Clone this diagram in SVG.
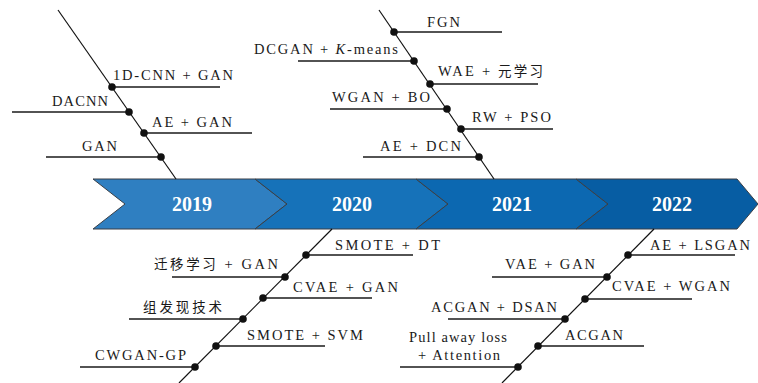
<svg xmlns="http://www.w3.org/2000/svg" width="758" height="383" viewBox="0 0 758 383">
  <style>
    .seg { stroke: #3a3f46; stroke-width: 1; stroke-linejoin: miter; }
    .year { font-family: "Liberation Serif", "DejaVu Serif", serif; font-weight: bold; font-size: 20px; fill: #ffffff; text-anchor: middle; }
    .lbl { font-family: "Liberation Serif", "DejaVu Serif", "Noto Sans CJK SC", serif; font-size: 14.5px; fill: #1a1a1a; }
    .cjk { font-family: "Noto Sans CJK SC", sans-serif; font-size: 13.5px; }
    .spine { stroke: #111111; stroke-width: 1.2; fill: none; }
    .tick { stroke: #1a1a1a; stroke-width: 1.3; fill: none; }
    .dot { fill: #111111; }
  </style>

  <rect width="758" height="383" fill="#ffffff"/>

  <!-- timeline band: four chevrons -->
  <g id="year-2019">
    <polygon class="seg" fill="#2f7fc1" points="93,179 255,179 287,204 255,229 93,229 125,204"/>
    <text class="year" x="192" y="211">2019</text>
  </g>
  <g id="year-2020">
    <polygon class="seg" fill="#1672b9" points="255,179 416,179 448,204 416,229 255,229 287,204"/>
    <text class="year" x="352" y="211">2020</text>
  </g>
  <g id="year-2021">
    <polygon class="seg" fill="#0c68b1" points="416,179 576,179 608,204 576,229 416,229 448,204"/>
    <text class="year" x="512" y="211">2021</text>
  </g>
  <g id="year-2022">
    <polygon class="seg" fill="#075da3" points="576,179 737,179 758,204 737,229 576,229 608,204"/>
    <text class="year" x="672" y="211">2022</text>
  </g>

  <!-- branch spines -->
  <g id="connectors">
    <line class="spine" x1="58" y1="10" x2="176" y2="179"/>
    <line class="spine" x1="379" y1="10" x2="494" y2="179"/>
    <line class="spine" x1="332" y1="229" x2="179" y2="383"/>
    <line class="spine" x1="654" y1="229" x2="502" y2="383"/>
  </g>

  <!-- 2019 methods -->
  <g id="m-1dcnn-gan">
    <line class="tick" x1="112" y1="87" x2="220" y2="87"/>
    <circle class="dot" cx="112" cy="87" r="3.8"/>
    <text class="lbl" x="113" y="80" textLength="120">1D-CNN + GAN</text>
  </g>
  <g id="m-dacnn">
    <line class="tick" x1="12" y1="112" x2="129" y2="112"/>
    <circle class="dot" cx="129" cy="112" r="3.8"/>
    <text class="lbl" x="52" y="106" textLength="56">DACNN</text>
  </g>
  <g id="m-ae-gan">
    <line class="tick" x1="144" y1="133" x2="252" y2="133"/>
    <circle class="dot" cx="144" cy="133" r="3.8"/>
    <text class="lbl" x="152" y="127" textLength="80">AE + GAN</text>
  </g>
  <g id="m-gan">
    <line class="tick" x1="46" y1="157" x2="161" y2="157"/>
    <circle class="dot" cx="161" cy="157" r="3.8"/>
    <text class="lbl" x="82" y="151" textLength="35">GAN</text>
  </g>

  <!-- 2021 methods -->
  <g id="m-fgn">
    <line class="tick" x1="394" y1="32" x2="502" y2="32"/>
    <circle class="dot" cx="394" cy="32" r="3.8"/>
    <text class="lbl" x="427" y="27" textLength="33">FGN</text>
  </g>
  <g id="m-dcgan-kmeans">
    <line class="tick" x1="298" y1="61" x2="414" y2="61"/>
    <circle class="dot" cx="414" cy="61" r="3.8"/>
    <text class="lbl" x="254" y="54" textLength="144">DCGAN + <tspan font-style="italic">K</tspan>-means</text>
  </g>
  <g id="m-wae-meta">
    <line class="tick" x1="430" y1="84" x2="538" y2="84"/>
    <circle class="dot" cx="430" cy="84" r="3.8"/>
    <text class="lbl" x="438" y="76" textLength="105">WAE + <tspan class="cjk">元学习</tspan></text>
  </g>
  <g id="m-wgan-bo">
    <line class="tick" x1="330" y1="109" x2="447" y2="109"/>
    <circle class="dot" cx="447" cy="109" r="3.8"/>
    <text class="lbl" x="332" y="102" textLength="98">WGAN + BO</text>
  </g>
  <g id="m-rw-pso">
    <line class="tick" x1="461" y1="129" x2="553" y2="129"/>
    <circle class="dot" cx="461" cy="129" r="3.8"/>
    <text class="lbl" x="472" y="122" textLength="79">RW + PSO</text>
  </g>
  <g id="m-ae-dcn">
    <line class="tick" x1="363" y1="157" x2="479" y2="157"/>
    <circle class="dot" cx="479" cy="157" r="3.8"/>
    <text class="lbl" x="380" y="151" textLength="81">AE + DCN</text>
  </g>

  <!-- 2020 methods -->
  <g id="m-smote-dt">
    <line class="tick" x1="306" y1="255" x2="413" y2="255"/>
    <circle class="dot" cx="306" cy="255" r="3.8"/>
    <text class="lbl" x="335" y="250" textLength="105">SMOTE + DT</text>
  </g>
  <g id="m-transfer-gan">
    <line class="tick" x1="172" y1="277" x2="285" y2="277"/>
    <circle class="dot" cx="285" cy="277" r="3.8"/>
    <text class="lbl" x="154" y="269" textLength="124"><tspan class="cjk">迁移学习</tspan> + GAN</text>
  </g>
  <g id="m-cvae-gan">
    <line class="tick" x1="263" y1="298" x2="372" y2="298"/>
    <circle class="dot" cx="263" cy="298" r="3.8"/>
    <text class="lbl" x="293" y="292" textLength="105">CVAE + GAN</text>
  </g>
  <g id="m-group-discovery">
    <line class="tick" x1="129" y1="319" x2="243" y2="319"/>
    <circle class="dot" cx="243" cy="319" r="3.8"/>
    <text class="lbl cjk" x="143" y="312" textLength="79">组发现技术</text>
  </g>
  <g id="m-smote-svm">
    <line class="tick" x1="216" y1="346" x2="325" y2="346"/>
    <circle class="dot" cx="216" cy="346" r="3.8"/>
    <text class="lbl" x="247" y="340" textLength="116">SMOTE + SVM</text>
  </g>
  <g id="m-cwgan-gp">
    <line class="tick" x1="80" y1="367" x2="195" y2="367"/>
    <circle class="dot" cx="195" cy="367" r="3.8"/>
    <text class="lbl" x="95" y="360" textLength="91">CWGAN-GP</text>
  </g>

  <!-- 2022 methods -->
  <g id="m-ae-lsgan">
    <line class="tick" x1="628" y1="255" x2="735" y2="255"/>
    <circle class="dot" cx="628" cy="255" r="3.8"/>
    <text class="lbl" x="650" y="250" textLength="100">AE + LSGAN</text>
  </g>
  <g id="m-vae-gan">
    <line class="tick" x1="492" y1="277" x2="607" y2="277"/>
    <circle class="dot" cx="607" cy="277" r="3.8"/>
    <text class="lbl" x="505" y="269" textLength="90">VAE + GAN</text>
  </g>
  <g id="m-cvae-wgan">
    <line class="tick" x1="585" y1="299" x2="692" y2="299"/>
    <circle class="dot" cx="585" cy="299" r="3.8"/>
    <text class="lbl" x="612" y="291" textLength="118">CVAE + WGAN</text>
  </g>
  <g id="m-acgan-dsan">
    <line class="tick" x1="448" y1="319" x2="565" y2="319"/>
    <circle class="dot" cx="565" cy="319" r="3.8"/>
    <text class="lbl" x="431" y="312" textLength="126">ACGAN + DSAN</text>
  </g>
  <g id="m-acgan">
    <line class="tick" x1="538" y1="346" x2="644" y2="346"/>
    <circle class="dot" cx="538" cy="346" r="3.8"/>
    <text class="lbl" x="565" y="340" textLength="58">ACGAN</text>
  </g>
  <g id="m-pullaway-attention">
    <line class="tick" x1="400" y1="367" x2="518" y2="367"/>
    <circle class="dot" cx="518" cy="367" r="3.8"/>
    <text class="lbl" x="409" y="342" textLength="98">Pull away loss</text>
    <text class="lbl" x="418" y="360" textLength="82">+ Attention</text>
  </g>
</svg>
